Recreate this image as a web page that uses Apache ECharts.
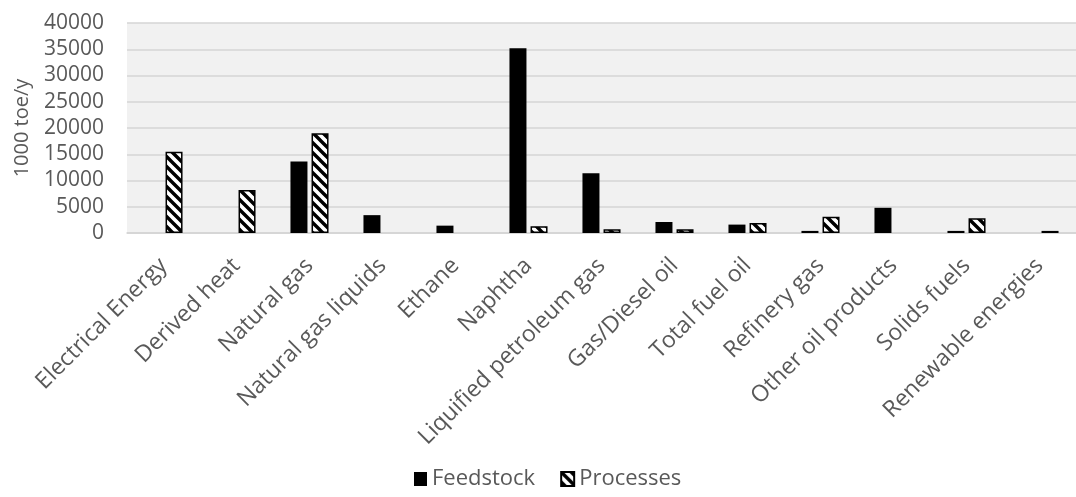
<!DOCTYPE html>
<html><head><meta charset="utf-8">
<script src="https://cdn.jsdelivr.net/npm/echarts@6/dist/echarts.min.js"></script>
<style>html,body{margin:0;padding:0;background:#fff}#c{width:1076px;height:497px}</style>
</head><body><div id="c"></div>
<script>
const categories = ["Electrical Energy","Derived heat","Natural gas","Natural gas liquids","Ethane","Naphtha","Liquified petroleum gas","Gas/Diesel oil","Total fuel oil","Refinery gas","Other oil products","Solids fuels","Renewable energies"];
const feedstock = [0, 0, 13600, 3400, 1400, 35200, 11400, 2100, 1600, 400, 4800, 400, 0];
const processes = [15500, 8200, 19000, 0, 0, 1300, 700, 700, 1900, 3100, 0, 2800, 400];
const yTicks = {min: 0, max: 40000, interval: 5000};

function hatch() {
  const s = 10;
  const c = document.createElement('canvas');
  c.width = s; c.height = s;
  const g = c.getContext('2d');
  g.fillStyle = '#fff'; g.fillRect(0, 0, s, s);
  g.strokeStyle = '#000'; g.lineWidth = 3.4;
  g.beginPath();
  for (let k = -1; k <= 1; k++) {
    g.moveTo(k * s - 2, -2); g.lineTo(k * s + s + 2, s + 2);
  }
  g.stroke();
  return c;
}
const pat = {image: hatch(), repeat: 'repeat'};
const hide0 = arr => arr.map(v => (v === 0 ? '-' : v));
const font = '"Open Sans", "Noto Sans", sans-serif';
const chart = echarts.init(document.getElementById('c'), null, {renderer: 'canvas'});
chart.setOption({
  animation: false,
  backgroundColor: '#fff',
  textStyle: {fontFamily: font},
  grid: {left: 127, top: 23, width: 958, height: 210, show: true, backgroundColor: '#f1f1f1', borderWidth: 0},
  legend: {
    bottom: 2, left: 409, itemWidth: 13, itemHeight: 14, itemGap: 25,
    icon: 'rect',
    textStyle: {fontSize: 22, color: '#595959', fontFamily: font},
    data: ['Feedstock', 'Processes']
  },
  xAxis: {
    type: 'category', data: categories,
    axisLine: {lineStyle: {color: '#d4d4d4', width: 1.5}},
    axisTick: {show: false},
    axisLabel: {interval: 0, rotate: 45, fontSize: 23, color: '#595959', margin: 29, fontFamily: font}
  },
  yAxis: {
    type: 'value', min: yTicks.min, max: yTicks.max, interval: yTicks.interval,
    name: '1000 toe/y', nameLocation: 'middle', nameGap: 95,
    nameTextStyle: {fontSize: 20, color: '#595959', fontFamily: font},
    axisLine: {show: false}, axisTick: {show: false},
    axisLabel: {fontSize: 21, color: '#595959', margin: 23, fontFamily: font, formatter: v => String(v)},
    splitLine: {lineStyle: {color: '#d4d4d4', width: 1.5}}
  },
  series: [
    {name: 'Feedstock', type: 'bar', data: hide0(feedstock), barWidth: 17, barGap: '24%',
     itemStyle: {color: '#000'}},
    {name: 'Processes', type: 'bar', data: hide0(processes), barWidth: 17,
     itemStyle: {color: pat, borderColor: '#000', borderWidth: 1.5}}
  ]
});
</script></body></html>
